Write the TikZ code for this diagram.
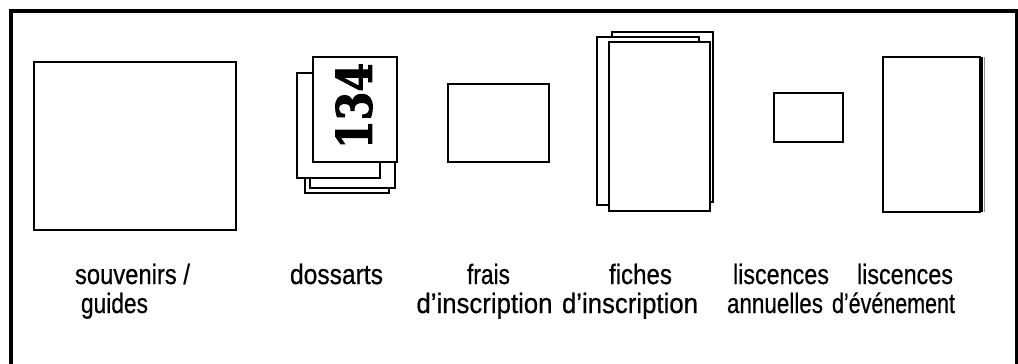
\documentclass[tikz,border=0pt]{standalone}
\usepackage{fontspec}
\usepackage{graphicx}
\setmainfont{Liberation Sans}
\newfontfamily\lblfont[FakeBold=0.6]{Liberation Sans}
\newfontfamily\bibfont[FakeBold=2.5]{DejaVu Serif}
% label set to a given width, keeping its natural height
\newcommand\lblw[2]{\resizebox{#1pt}{\height}{#2}}
\begin{document}
\begin{tikzpicture}[x=1pt,y=-1pt,
  sheet/.style={draw=black,fill=white,line width=1.3pt},
  lbl/.style={anchor=base,inner sep=0pt,font=\lblfont\fontsize{28}{28}\selectfont},
  frame/.style={draw=black,line width=3.8pt}]
\useasboundingbox (0,0) rectangle (1018,364);
\clip (0,0) rectangle (1018,364);

% outer frame (open at the bottom)
\coordinate (fbl) at (11,380);
\coordinate (ftl) at (11,10.7);
\coordinate (ftr) at (1016.5,10.7);
\coordinate (fbr) at (1016.5,380);
\draw[frame] (fbl) -- (ftl) -- (ftr) -- (fbr);

% souvenirs / guides
\draw[sheet] (34,62) rectangle (236,230);

% dossarts: a small stack of bibs
\draw[sheet] (305,85) rectangle (389,193);
\draw[sheet] (310,85) rectangle (395,188);
\draw[sheet] (297,73) rectangle (380,178);
\draw[sheet] (313,57) rectangle (397,162);
\node[inner sep=0pt,rotate=90] (num) at (354,106)
  {\resizebox{86pt}{36pt}{\bibfont\bfseries 134}};

% frais d'inscription
\draw[sheet] (448,84) rectangle (549,162);

% fiches d'inscription: stacked forms
\draw[sheet] (612,32) rectangle (713,202);
\draw[sheet] (597,37) rectangle (699,205);
\draw[sheet] (609,42) rectangle (710,211);

% liscences annuelles
\draw[sheet] (774,93) rectangle (843,142);

% liscences d'evenement: booklet with a thick spine
\draw[sheet] (883,57) rectangle (980,212);
\draw[line width=3pt] (981.3,57) -- (981.3,212);
\draw[line width=1pt,black!45] (984.2,57) -- (984.2,212);

% labels
\node[lbl] (t1a) at (132.5,284) {\lblw{115}{souvenirs /}};
\node[lbl] (t1b) at (114.5,313) {\lblw{67}{guides}};
\node[lbl] (t2a) at (336.5,284) {\lblw{93}{dossarts}};
\node[lbl] (t3a) at (488.5,284) {\lblw{43}{frais}};
\node[lbl] (t3b) at (484.5,313) {\lblw{136}{d’inscription}};
\node[lbl] (t4a) at (640.5,284) {\lblw{63}{fiches}};
\node[lbl] (t4b) at (630,313) {\lblw{136}{d’inscription}};
\node[lbl] (t5a) at (781,284) {\lblw{96}{liscences}};
\node[lbl] (t5b) at (775,313) {\lblw{96}{annuelles}};
\node[lbl] (t6a) at (905,284) {\lblw{96}{liscences}};
\node[lbl] (t6b) at (893.5,313) {\lblw{123}{d’événement}};
\end{tikzpicture}
\end{document}
